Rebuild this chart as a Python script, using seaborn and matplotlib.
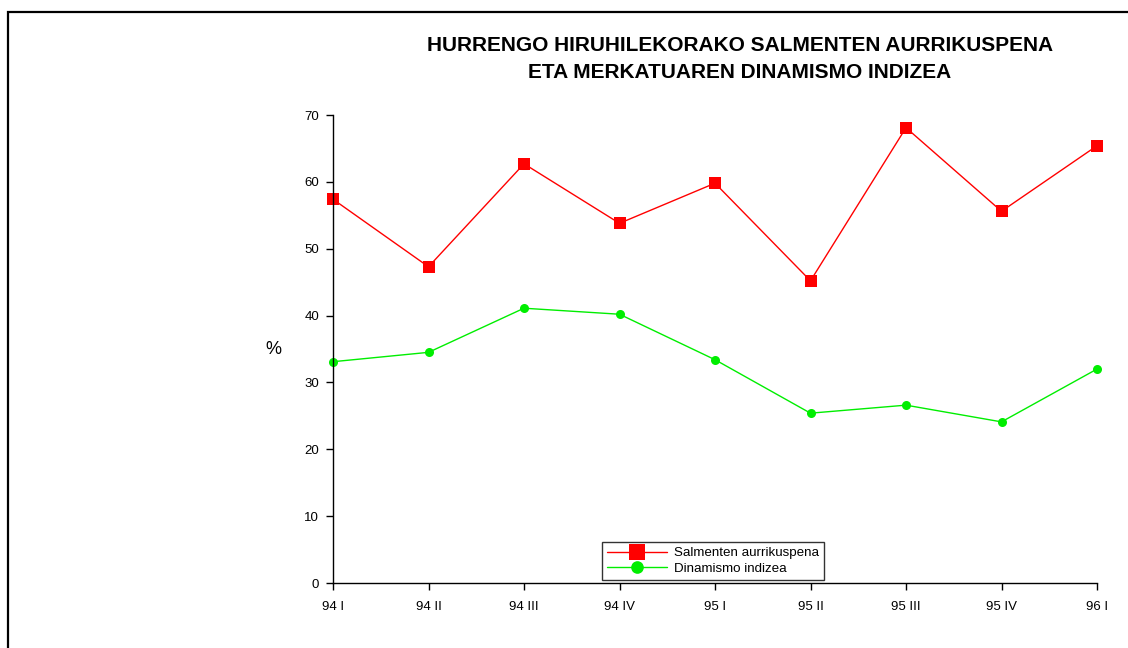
import matplotlib
matplotlib.use("Agg")
import matplotlib.pyplot as plt
import seaborn as sns
from matplotlib.patches import Rectangle

quarters = ["94 I", "94 II", "94 III", "94 IV", "95 I", "95 II", "95 III", "95 IV", "96 I"]
sales_forecast = [57.4, 47.3, 62.7, 53.8, 59.8, 45.2, 68.1, 55.6, 65.4]
dynamism_index = [33.1, 34.5, 41.1, 40.2, 33.4, 25.4, 26.6, 24.1, 32.0]

sns.set_style("ticks")
plt.rcParams["font.family"] = ["Liberation Sans", "DejaVu Sans"]
plt.rcParams["text.color"] = "black"

fig = plt.figure(figsize=(11.28, 6.48), dpi=100)
ax = fig.add_axes([333 / 1128, 1 - 583 / 648, 764 / 1128, 468 / 648])

# outer frame (cut off on right and bottom like the original)
fig.patches.append(Rectangle((7.5 / 1128, -0.1), 1.2, 1 - 11.5 / 648 + 0.1,
                             transform=fig.transFigure, fill=False,
                             edgecolor="black", linewidth=1.6))

sns.lineplot(x=quarters, y=sales_forecast, color="#ff0000", marker="s",
             markersize=8, markeredgewidth=0, linewidth=1, sort=False,
             label="Salmenten aurrikuspena", ax=ax)
sns.lineplot(x=quarters, y=dynamism_index, color="#00ee00", marker="o",
             markersize=6.5, markeredgewidth=0, linewidth=1, sort=False,
             label="Dinamismo indizea", ax=ax)

ax.set_xlim(0, len(quarters) - 1)
ax.set_ylim(0, 70)
ax.set_yticks(range(0, 71, 10))
ax.tick_params(axis="both", direction="out", length=5, width=1, labelsize=9.5,
               colors="black", pad=5)
ax.tick_params(axis="x", pad=8)
for side in ["top", "right"]:
    ax.spines[side].set_visible(False)
for side in ["left", "bottom"]:
    ax.spines[side].set_linewidth(1)
    ax.spines[side].set_color("black")
for m in ax.lines:
    m.set_clip_on(False)

ax.set_xlabel("")
ax.set_ylabel("%", rotation=0, fontsize=13, labelpad=22, va="center", color="black")

fig.text(740 / 1128, 1 - 59 / 648,
         "HURRENGO HIRUHILEKORAKO SALMENTEN AURRIKUSPENA\nETA MERKATUAREN DINAMISMO INDIZEA",
         ha="center", va="center", fontsize=15, fontweight="bold", linespacing=1.5,
         color="black")

leg = ax.legend(loc="lower left", bbox_to_anchor=(0.352, 0.006), borderaxespad=0,
                fontsize=9.6, frameon=True, fancybox=False, markerscale=1.4,
                handlelength=4.5, handletextpad=0.5, borderpad=0.4,
                labelspacing=0.25)
leg.get_frame().set_edgecolor("black")
leg.get_frame().set_linewidth(1)
for t in leg.get_texts():
    t.set_color("black")

fig.savefig("out.png", dpi=100)
